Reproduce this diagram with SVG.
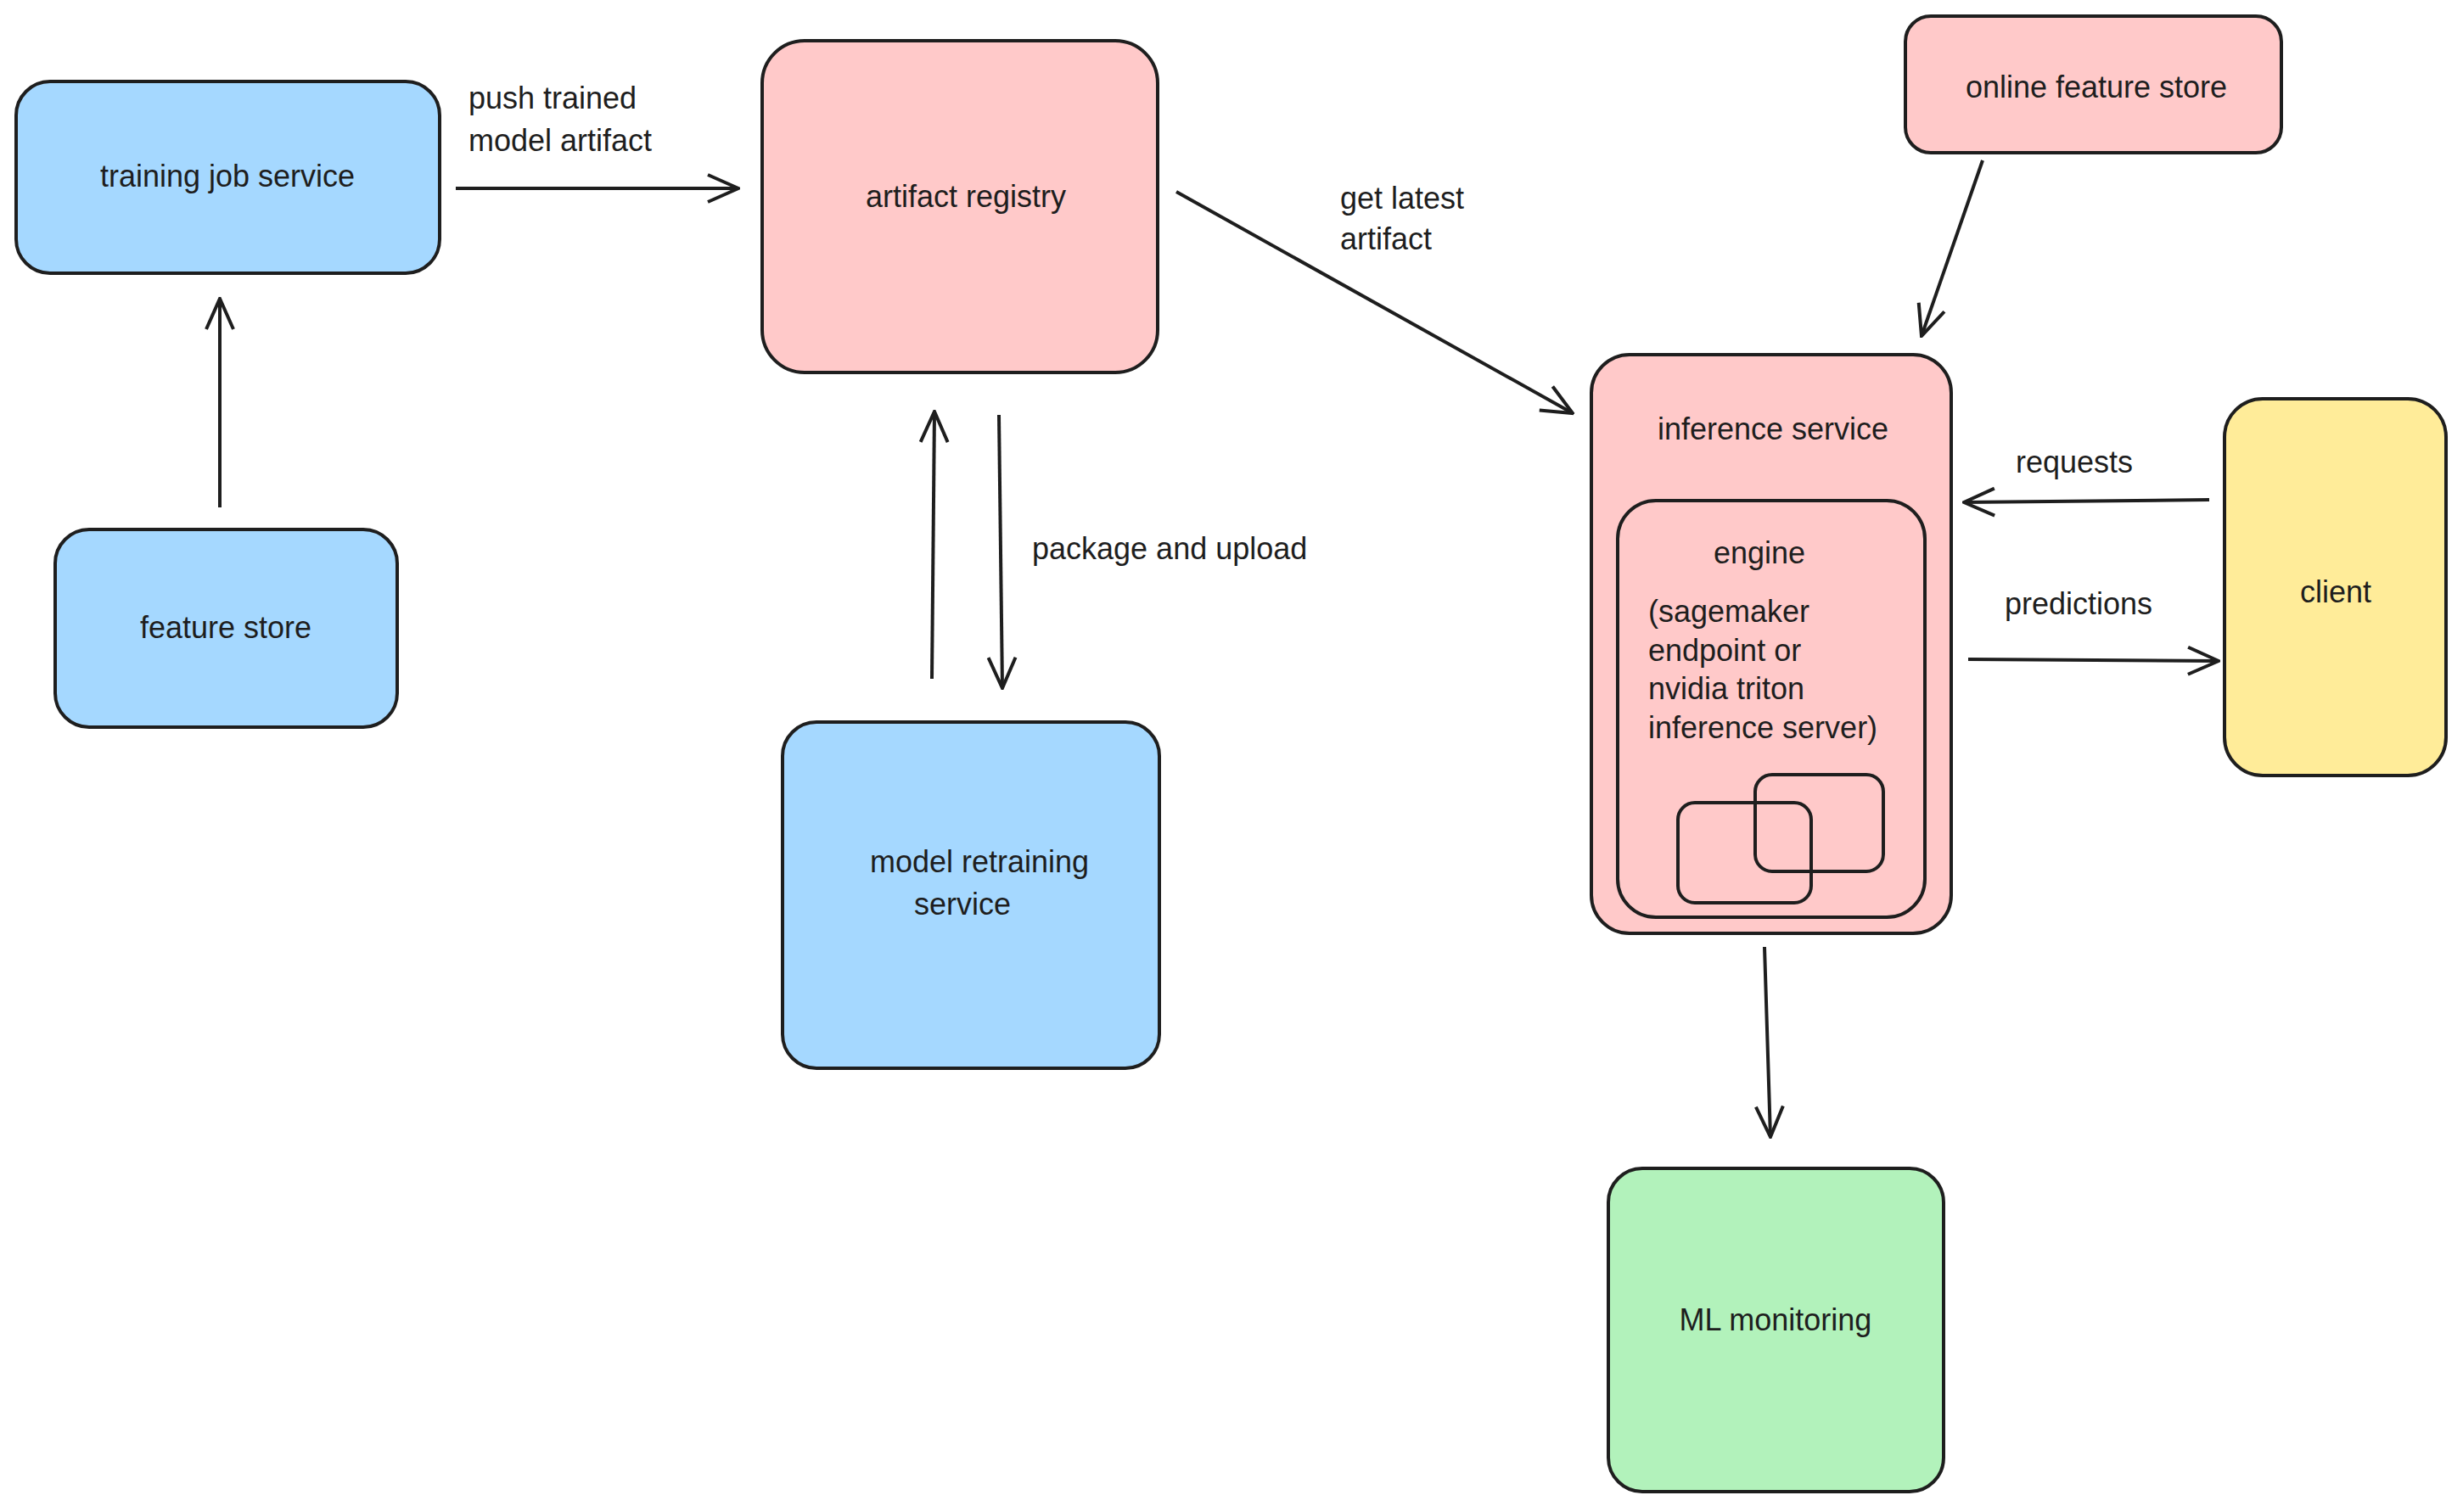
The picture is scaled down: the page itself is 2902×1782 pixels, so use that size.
<svg xmlns="http://www.w3.org/2000/svg" width="2902" height="1782" viewBox="0 0 2902 1782">
<style>
.n{stroke:#1e1e1e;stroke-width:4;}
.b{fill:#a5d8ff}.p{fill:#ffc9c9}.y{fill:#ffec99}.g{fill:#b2f2bb}
text{font-family:"Liberation Sans","DejaVu Sans",sans-serif;font-size:36px;fill:#1e1e1e}
.c{text-anchor:middle}
.e{stroke:#1e1e1e;stroke-width:4;fill:none;marker-end:url(#a)}
</style>
<defs><marker id="a" viewBox="0 0 20 20" refX="18" refY="10" markerWidth="12" markerHeight="12" markerUnits="userSpaceOnUse" orient="auto"><path d="M0,0 L18,10 L0,20" fill="none" stroke="#1e1e1e" stroke-width="2"/></marker>
<marker id="m" viewBox="0 0 40 40" refX="38" refY="20" markerWidth="40" markerHeight="40" markerUnits="userSpaceOnUse" orient="auto"><path d="M2,4 L38,20 L2,36" fill="none" stroke="#1e1e1e" stroke-width="4"/></marker></defs>
<rect width="2902" height="1782" fill="#fff"/>
<g id="training"><rect class="n b" x="19" y="96" width="499" height="226" rx="40"/><text class="c" x="268" y="220">training job service</text></g>
<g id="featurestore"><rect class="n b" x="65" y="624" width="403" height="233" rx="40"/><text class="c" x="266" y="752">feature store</text></g>
<g id="registry"><rect class="n p" x="898" y="48" width="466" height="391" rx="50"/><text class="c" x="1138" y="244">artifact registry</text></g>
<g id="retraining"><rect class="n b" x="922" y="851" width="444" height="408" rx="40"/><text class="c" x="1154" y="1028">model retraining</text><text class="c" x="1134" y="1078">service</text></g>
<g id="online"><rect class="n p" x="2245" y="19" width="443" height="161" rx="30"/><text class="c" x="2470" y="115">online feature store</text></g>
<g id="inference"><rect class="n p" x="1875" y="418" width="424" height="682" rx="45"/><text class="c" x="2089" y="518">inference service</text>
<rect class="n p" x="1906" y="590" width="362" height="491" rx="45"/><text class="c" x="2073" y="664">engine</text>
<text x="1942" y="733">(sagemaker</text><text x="1942" y="779">endpoint or</text><text x="1942" y="824">nvidia triton</text><text x="1942" y="870">inference server)</text>
<rect class="n" fill="none" x="1977" y="946" width="157" height="118" rx="20"/><rect class="n" fill="none" x="2068" y="913" width="151" height="114" rx="20"/></g>
<g id="client"><rect class="n y" x="2621" y="470" width="261" height="444" rx="45"/><text class="c" x="2752" y="710">client</text></g>
<g id="monitoring"><rect class="n g" x="1895" y="1377" width="395" height="381" rx="40"/><text class="c" x="2092" y="1568">ML monitoring</text></g>
<g id="connectors" stroke="#1e1e1e" stroke-width="4" fill="none">
<path d="M259,598 L259,352" marker-end="url(#m)"/>
<path d="M537,222 L870,222" marker-end="url(#m)"/>
<path d="M1386,226 L1853,487" marker-end="url(#m)"/>
<path d="M1098,800 L1101,485" marker-end="url(#m)"/>
<path d="M1177,489 L1181,811" marker-end="url(#m)"/>
<path d="M2336,189 L2264,396" marker-end="url(#m)"/>
<path d="M2603,589 L2314,592" marker-end="url(#m)"/>
<path d="M2319,777 L2614,779" marker-end="url(#m)"/>
<path d="M2079,1116 L2086,1340" marker-end="url(#m)"/>
</g>
<g id="labels">
<text x="552" y="128">push trained</text><text x="552" y="178">model artifact</text>
<text x="1579" y="246">get latest</text><text x="1579" y="294">artifact</text>
<text x="1216" y="659">package and upload</text>
<text x="2375" y="557">requests</text>
<text x="2362" y="724">predictions</text>
</g>
</svg>
